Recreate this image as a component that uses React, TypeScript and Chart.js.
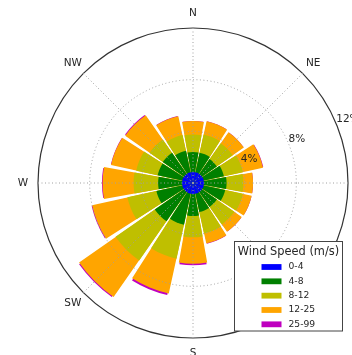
import React, { useEffect, useRef } from 'react';
import { Chart, registerables } from 'chart.js';

Chart.register(...registerables);

// ---- data (percent frequency per direction, per speed bin) ----
const DIRECTIONS = ['N', 'NNE', 'NE', 'ENE', 'E', 'ESE', 'SE', 'SSE', 'S', 'SSW', 'SW', 'WSW', 'W', 'WNW', 'NW', 'NNW'];
const SPEED_BINS = ['0-4', '4-8', '8-12', '12-25', '25-99'];

const FREQ_0_4 = [0.85, 0.85, 0.85, 0.85, 0.85, 0.85, 0.85, 0.85, 0.85, 0.85, 0.85, 0.85, 0.85, 0.85, 0.85, 0.85];
const FREQ_4_8 = [1.55, 1.55, 1.4, 1.6, 1.75, 1.7, 1.4, 1.45, 1.7, 2.45, 2.75, 2.05, 1.85, 1.95, 2.0, 1.7];
const FREQ_8_12 = [1.35, 1.45, 1.5, 1.5, 1.3, 1.4, 1.65, 1.7, 1.65, 2.7, 3.7, 2.3, 1.9, 1.7, 1.25, 1.25];
const FREQ_12_25 = [1.05, 1.05, 1.05, 1.6, 0.75, 0.7, 0.7, 0.8, 2.05, 2.75, 3.45, 2.8, 2.4, 2.0, 2.3, 1.5];
const FREQ_25_99 = [0, 0, 0, 0.03, 0, 0, 0, 0.02, 0.12, 0.15, 0.08, 0.05, 0.05, 0.02, 0.06, 0.02];

const SPEED_COLORS = ['#0000ff', '#008000', '#bfbf00', '#ffa500', '#bf00bf'];
const COMPASS_LABELS = ['N', 'NE', 'E', 'SE', 'S', 'SW', 'W', 'NW'];
const RING_TICKS = [4, 8, 12];
const R_MAX = 12;
const LEGEND_TITLE = 'Wind Speed (m/s)';

// ---- styling ----
const FONT = 'DejaVu Sans';
const SECTOR = 360 / DIRECTIONS.length;
const GAP_BASE = 1.65;
// per-band angular shrink (degrees) so lower layers never peek out at the sides
const BAND_SHRINK = [0, 0.2, 0.4, 0.6, 1.8];
const GRID_COLOR = '#a0a0a0';
const FRAME_COLOR = '#333333';
const TEXT_COLOR = '#262626';

function buildDatasets() {
  const bins = [FREQ_0_4, FREQ_4_8, FREQ_8_12, FREQ_12_25, FREQ_25_99];
  let running = DIRECTIONS.map(() => 0);
  return bins.map((bin, k) => {
    running = running.map((v, i) => v + bin[i]);
    const data: number[] = [];
    running.forEach((v) => {
      data.push(0); // half gap
      data.push(v);
      data.push(0); // half gap
    });
    return {
      label: SPEED_BINS[k],
      data,
      backgroundColor: SPEED_COLORS[k],
      borderWidth: 0,
      angle: (c: any) => {
        const bar = SECTOR - GAP_BASE - BAND_SHRINK[c.datasetIndex];
        return c.dataIndex % 3 === 1 ? bar : (SECTOR - bar) / 2;
      },
    };
  });
}

function buildLabels() {
  const labels: string[] = [];
  DIRECTIONS.forEach((d) => {
    labels.push('');
    labels.push(d);
    labels.push('');
  });
  return labels;
}

const overlayPlugin = {
  id: 'roseOverlay',
  afterDraw(chart: any) {
    const scale = chart.scales.r;
    const ctx = chart.ctx as CanvasRenderingContext2D;
    const cx = scale.xCenter;
    const cy = scale.yCenter;
    const rMax = scale.getDistanceFromCenterForValue(R_MAX);

    ctx.save();
    // radial dotted lines
    ctx.strokeStyle = GRID_COLOR;
    ctx.lineWidth = 1;
    ctx.setLineDash([1, 2.5]);
    COMPASS_LABELS.forEach((_, i) => {
      const a = (i * Math.PI) / 4 - Math.PI / 2;
      ctx.beginPath();
      ctx.moveTo(cx, cy);
      ctx.lineTo(cx + rMax * Math.cos(a), cy + rMax * Math.sin(a));
      ctx.stroke();
    });
    ctx.setLineDash([]);

    // compass labels
    ctx.fillStyle = TEXT_COLOR;
    ctx.font = `10.5px "${FONT}"`;
    ctx.textAlign = 'center';
    ctx.textBaseline = 'middle';
    COMPASS_LABELS.forEach((lab, i) => {
      const a = (i * Math.PI) / 4 - Math.PI / 2;
      const r = rMax + 15;
      ctx.fillText(lab, cx + r * Math.cos(a), cy + r * Math.sin(a));
    });

    // ring labels
    ctx.textAlign = 'left';
    ctx.textBaseline = 'bottom';
    const ra = -Math.PI / 8;
    RING_TICKS.forEach((t) => {
      const r = scale.getDistanceFromCenterForValue(t);
      ctx.fillText(`${t}%`, cx + r * Math.cos(ra), cy + r * Math.sin(ra) + 1);
    });

    // legend
    const lx = 234.5;
    const ly = 241.5;
    const lw = 108;
    const lh = 89.5;
    ctx.fillStyle = '#ffffff';
    ctx.fillRect(lx, ly, lw, lh);
    ctx.strokeStyle = '#444444';
    ctx.lineWidth = 1;
    ctx.strokeRect(lx, ly, lw, lh);
    ctx.fillStyle = TEXT_COLOR;
    ctx.font = `11.4px "${FONT}"`;
    ctx.textAlign = 'center';
    ctx.textBaseline = 'middle';
    ctx.fillText(LEGEND_TITLE, lx + lw / 2, ly + 10.5);
    ctx.font = `9.2px "${FONT}"`;
    ctx.textAlign = 'left';
    chart.data.datasets.forEach((ds: any, i: number) => {
      const y = ly + 25.5 + i * 14.33;
      ctx.fillStyle = ds.backgroundColor;
      ctx.fillRect(lx + 27, y - 2.9, 20, 5.8);
      ctx.fillStyle = TEXT_COLOR;
      ctx.fillText(ds.label, lx + 54, y);
    });
    ctx.restore();
  },
};

export default function App() {
  const ref = useRef<HTMLCanvasElement>(null);
  useEffect(() => {
    Chart.defaults.font.family = FONT;
    const chart = new Chart(ref.current as HTMLCanvasElement, {
      type: 'polarArea',
      data: { labels: buildLabels(), datasets: buildDatasets() as any },
      options: {
        responsive: false,
        animation: false,
        devicePixelRatio: 1,
        layout: { padding: { left: 38, right: 4, top: 28, bottom: 17 } },
        plugins: { legend: { display: false }, tooltip: { enabled: false } },
        scales: {
          r: {
            min: 0,
            max: R_MAX,
            startAngle: -SECTOR / 2,
            ticks: { display: false, stepSize: 4 },
            pointLabels: { display: false },
            angleLines: { display: false },
            grid: {
              z: 1,
              circular: true,
              color: (c: any) => (c.tick && c.tick.value === R_MAX ? FRAME_COLOR : GRID_COLOR),
              lineWidth: (c: any) => (c.tick && c.tick.value === R_MAX ? 1.2 : 1),
            },
            border: {
              dash: (c: any) => (c.tick && c.tick.value === R_MAX ? [] : [1, 2.5]),
            },
          } as any,
        },
      },
      plugins: [overlayPlugin],
    });
    return () => chart.destroy();
  }, []);
  return (
    <div style={{ position: 'absolute', left: 0, top: 0, width: 352, height: 355, background: '#fff' }}>
      <canvas ref={ref} width={352} height={355} style={{ display: 'block' }} />
    </div>
  );
}
